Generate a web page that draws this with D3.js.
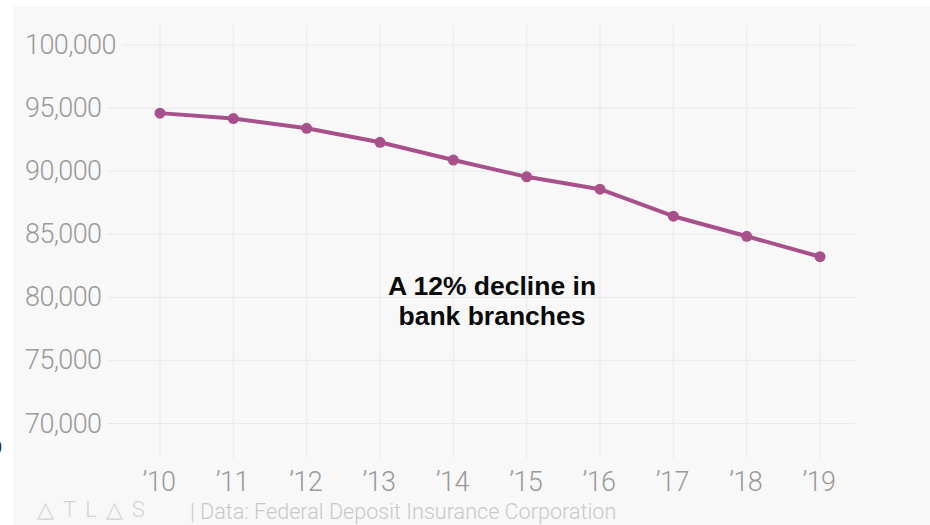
<!DOCTYPE html>
<html>
<head>
<meta charset="utf-8">
<script src="https://cdn.jsdelivr.net/npm/d3@7"></script>
<style>
  body { margin: 0; background: #fff; }
  svg { display: block; }
</style>
</head>
<body>
<div id="chart-area"></div>
<script>
// bank branches per year (FDIC)
var years = ["2010", "2011", "2012", "2013", "2014", "2015", "2016", "2017", "2018", "2019"];
var branches = [94600, 94170, 93400, 92290, 90880, 89550, 88570, 86430, 84840, 83220];
var yTicks = [70000, 75000, 80000, 85000, 90000, 95000, 100000];

var w = 930, h = 525;

var svg = d3.select("#chart-area").append("svg")
    .attr("width", w)
    .attr("height", h);

// panel background
svg.append("rect")
    .attr("x", 13).attr("y", 6)
    .attr("width", w - 13).attr("height", h - 6)
    .attr("fill", "#f8f8f8");

var x = d3.scalePoint()
    .domain(years)
    .range([160, 820]);

var y = d3.scaleLinear()
    .domain([70000, 100000])
    .range([423.5, 45]);

// vertical grid
svg.append("g").selectAll("line")
    .data(years)
    .enter().append("line")
        .attr("x1", (d)=>{return x(d);})
        .attr("x2", (d)=>{return x(d);})
        .attr("y1", 25)
        .attr("y2", 458)
        .attr("stroke", "#e9e9e9")
        .attr("stroke-width", 1);

// horizontal grid
svg.append("g").selectAll("line")
    .data(yTicks)
    .enter().append("line")
        .attr("x1", 25)
        .attr("x2", 855)
        .attr("y1", (d)=>{return y(d);})
        .attr("y2", (d)=>{return y(d);})
        .attr("stroke", "#e9e9e9")
        .attr("stroke-width", 1);

// y labels (masked against grid)
svg.append("g").selectAll("text")
    .data(yTicks)
    .enter().append("text")
        .attr("x", 25)
        .attr("y", (d)=>{return y(d) + 9;})
        .attr("font-family", "Roboto")
        .attr("font-weight", 300)
        .attr("font-size", "27px")
        .attr("letter-spacing", "-0.6px")
        .attr("fill", "#9a9a9a")
        .attr("stroke", "#f8f8f8")
        .attr("stroke-width", 14)
        .attr("paint-order", "stroke")
        .text(d3.format(","));

// x labels
svg.append("g").selectAll("text")
    .data(years)
    .enter().append("text")
        .attr("x", (d)=>{return x(d) - 1;})
        .attr("y", 491)
        .attr("text-anchor", "middle")
        .attr("font-family", "Roboto")
        .attr("font-weight", 300)
        .attr("font-size", "27px")
        .attr("letter-spacing", "-0.6px")
        .attr("fill", "#9a9a9a")
        .text((d)=>{return "\u2019" + d.slice(2);});

var color = "#a8508a";

var line = d3.line()
    .x((d, i)=>{return x(years[i]);})
    .y((d)=>{return y(d);});

svg.append("path")
    .datum(branches)
    .attr("d", line)
    .attr("fill", "none")
    .attr("stroke", color)
    .attr("stroke-width", 4)
    .attr("stroke-linejoin", "round");

svg.append("g").selectAll("circle")
    .data(branches)
    .enter().append("circle")
        .attr("cx", (d, i)=>{return x(years[i]);})
        .attr("cy", (d)=>{return y(d);})
        .attr("r", 5.5)
        .attr("fill", color);

// annotation
var note = svg.append("text")
    .attr("x", 492)
    .attr("y", 295)
    .attr("text-anchor", "middle")
    .attr("font-family", "Liberation Sans, Arial, sans-serif")
    .attr("font-weight", "bold")
    .attr("font-size", "26.5px")
    .attr("fill", "#0a0a0a");
note.append("tspan").attr("x", 492).text("A 12% decline in");
note.append("tspan").attr("x", 492).attr("dy", 30).text("bank branches");

// footer
svg.append("text")
    .attr("x", 37)
    .attr("y", 517)
    .attr("font-family", "Roboto")
    .attr("font-weight", 300)
    .attr("font-size", "22px")
    .attr("letter-spacing", "9px")
    .attr("fill", "#d4d4d4")
    .text("\u25B3TL\u25B3S");

svg.append("text")
    .attr("x", 190)
    .attr("y", 519)
    .attr("font-family", "Roboto")
    .attr("font-weight", 300)
    .attr("font-size", "21.6px")
    .attr("fill", "#c8c8c8")
    .text("| Data: Federal Deposit Insurance Corporation");

// clipped edge glyph
svg.append("text")
    .attr("x", -7)
    .attr("y", 453)
    .attr("font-family", "Roboto")
    .attr("font-size", "16px")
    .attr("fill", "#222")
    .text("0");
</script>
</body>
</html>
